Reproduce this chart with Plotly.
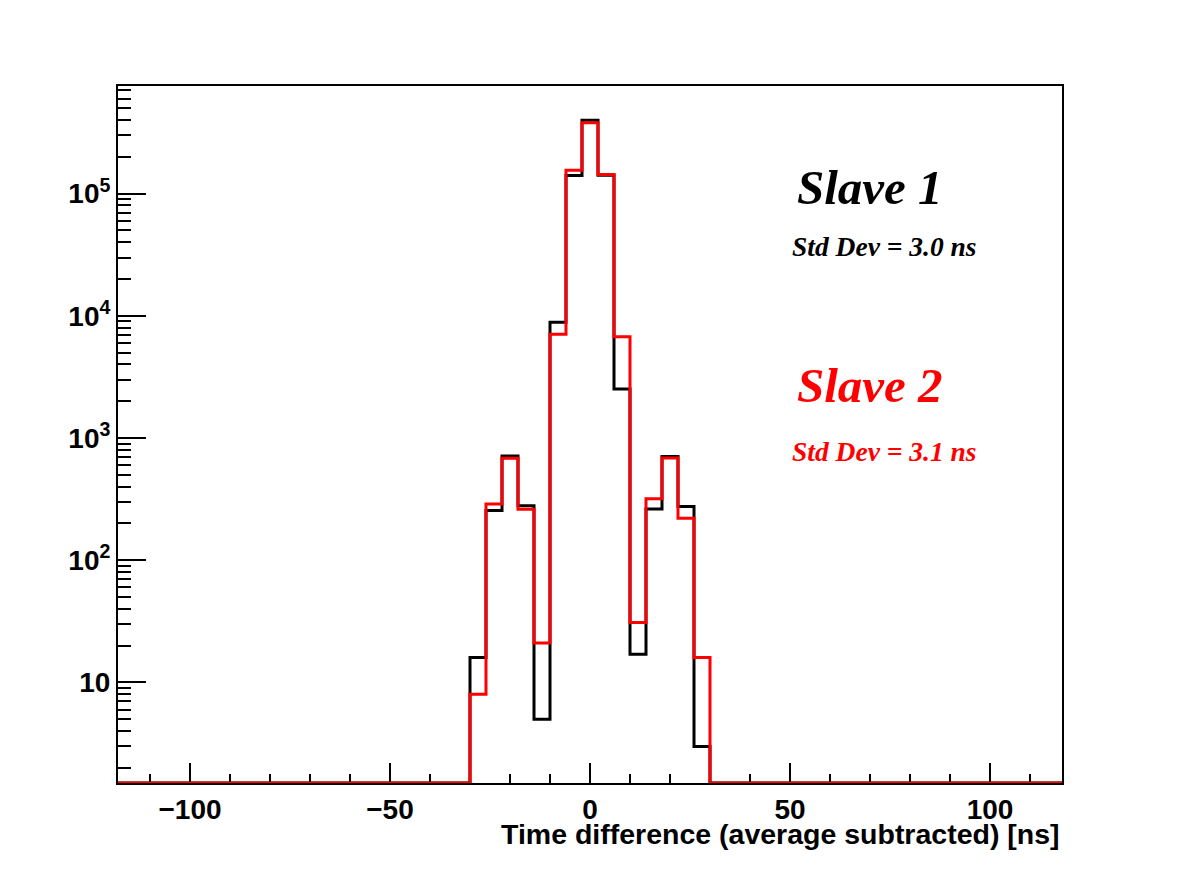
import numpy as np
import plotly.graph_objects as go

# ---------------- data ----------------
hist_range = (-118, 118)          # histogram axis range [ns]
bin_width = 4                     # [ns]
filled_bin_centers = [-28, -24, -20, -16, -12, -8, -4, 0, 4, 8, 12, 16, 20, 24, 28]
slave1_counts = [16, 255, 714, 280, 5, 8850, 141000, 399000, 141600, 2520, 17, 263, 705, 275, 3]
slave2_counts = [8, 289, 684, 262, 21, 7060, 155600, 381000, 143500, 6745, 31, 318, 687, 221, 16]
y_range = (1.505, 7.6e5)
xtick_vals = [-100, -50, 0, 50, 100]
ytick_vals = [10, 100, 1000, 10000, 100000]
ytick_text = ["10", "10<sup>2</sup>", "10<sup>3</sup>", "10<sup>4</sup>", "10<sup>5</sup>"]
x_title = "Time difference (average subtracted) [ns]"
labels = [("Slave 1", "Std Dev = 3.0 ns", "black"), ("Slave 2", "Std Dev = 3.1 ns", "red")]

# ---------------- build histograms ----------------
edges = np.arange(hist_range[0], hist_range[1] + bin_width, bin_width)
centers = edges[:-1] + bin_width / 2


def full_counts(vals):
    lookup = dict(zip(filled_bin_centers, vals))
    c = np.array([lookup.get(int(round(x)), 0) for x in centers], dtype=float)
    # empty bins are drawn on the frame bottom (as ROOT does on a log axis)
    c[c <= 0] = y_range[0]
    return np.append(c, c[-1])


fig = go.Figure()
for vals, col in [(slave1_counts, "black"), (slave2_counts, "red")]:
    fig.add_trace(go.Scatter(
        x=edges, y=full_counts(vals), mode="lines",
        line=dict(color=col, width=3, shape="hv"),
        showlegend=False, cliponaxis=False, hoverinfo="skip"))

tickfont = dict(family="Liberation Sans", size=28, color="black", weight="bold")

minor_y = [m * 10 ** d for d in range(0, 6) for m in range(2, 10)
           if y_range[0] < m * 10 ** d < y_range[1]]

fig.update_xaxes(
    range=list(hist_range), tickvals=xtick_vals, ticks="inside", ticklen=20,
    tickwidth=1.5, tickcolor="black", showline=True, linecolor="black",
    linewidth=2, mirror=True, showgrid=False, zeroline=False,
    tickfont=tickfont, layer="below traces",
    minor=dict(dtick=10, ticks="inside", ticklen=9, tickwidth=1.5,
               tickcolor="black", showgrid=False))
fig.update_yaxes(
    type="log", range=[np.log10(y_range[0]), np.log10(y_range[1])],
    tickvals=ytick_vals, ticktext=ytick_text, ticks="inside", ticklen=28,
    tickwidth=1.5, tickcolor="black", showline=True, linecolor="black",
    linewidth=2, mirror=True, showgrid=False, zeroline=False,
    tickfont=tickfont, layer="below traces",
    minor=dict(tickvals=minor_y, ticks="inside", ticklen=13, tickwidth=1.5,
               tickcolor="black", showgrid=False))

annotations = [dict(
    text=x_title, xref="paper", yref="paper", x=1, y=0,
    xanchor="right", yanchor="top", yshift=-33, showarrow=False,
    font=dict(family="Liberation Sans", size=28.5, color="black", weight="bold"))]

label_pos = [(0.717, 0.855, 0.77), (0.717, 0.57, 0.475)]
for (big, small, col), (xp, yb, ys) in zip(labels, label_pos):
    annotations.append(dict(
        text=big, xref="paper", yref="paper", x=xp, y=yb, xanchor="left",
        yanchor="middle", showarrow=False,
        font=dict(family="Liberation Serif", size=49, color=col,
                  weight="bold", style="italic")))
    annotations.append(dict(
        text=small, xref="paper", yref="paper", x=xp - 0.005, y=ys,
        xanchor="left", yanchor="middle", showarrow=False,
        font=dict(family="Liberation Serif", size=27.5, color=col,
                  weight="bold", style="italic")))

fig.update_layout(
    width=1182, height=871,
    margin=dict(l=118, r=120, t=86, b=88),
    paper_bgcolor="white", plot_bgcolor="white",
    annotations=annotations)

fig.write_html("out.html")
